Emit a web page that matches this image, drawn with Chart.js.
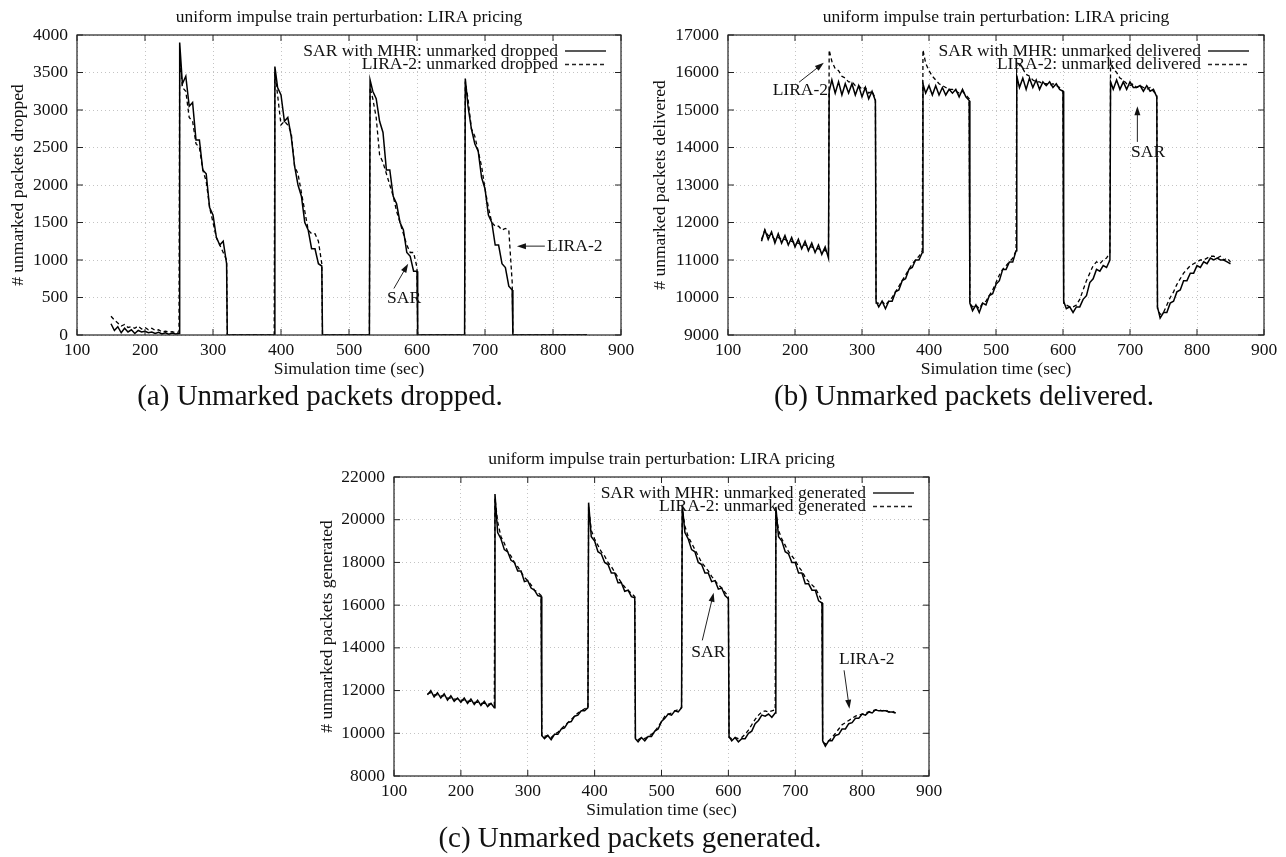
<!DOCTYPE html>
<html>
<head>
<meta charset="utf-8">
<script src="https://cdn.jsdelivr.net/npm/chart.js@4.4.1/dist/chart.umd.min.js"></script>
<style>
  body { margin: 0; background: #fff; width: 1286px; height: 857px; position: relative; overflow: hidden; font-family: "Liberation Serif", "Times New Roman", serif; }
  .box { position: absolute; }
  .caption { position: absolute; font-size: 29px; color: #111; transform: translate(-50%, -50%); white-space: nowrap; }
</style>
</head>
<body>
<div class="box" style="left:0;top:0;width:643px;height:400px"><canvas id="chartA"></canvas></div>
<div class="box" style="left:643px;top:0;width:643px;height:400px"><canvas id="chartB"></canvas></div>
<div class="box" style="left:300px;top:430px;width:686px;height:427px"><canvas id="chartC"></canvas></div>
<div class="caption" style="left:320px;top:395px">(a) Unmarked packets dropped.</div>
<div class="caption" style="left:964px;top:395px">(b) Unmarked packets delivered.</div>
<div class="caption" style="left:630px;top:837px">(c) Unmarked packets generated.</div>
<script>
// simulation time (sec); the extra x+1 points carry the steps of the impulse train
const times = [
  150, 155, 160, 165, 170, 175, 180, 185, 190, 195, 200, 205, 210, 215, 220, 225, 230, 235, 240, 245, 250,
  251, 255, 260, 265, 270, 275, 280, 285, 290, 295, 300, 305, 310, 315, 320,
  321, 325, 330, 335, 340, 345, 350, 355, 360, 365, 370, 375, 380, 385, 390,
  391, 395, 400, 405, 410, 415, 420, 425, 430, 435, 440, 445, 450, 455, 460,
  461, 465, 470, 475, 480, 485, 490, 495, 500, 505, 510, 515, 520, 525, 530,
  531, 535, 540, 545, 550, 555, 560, 565, 570, 575, 580, 585, 590, 595, 600,
  601, 605, 610, 615, 620, 625, 630, 635, 640, 645, 650, 655, 660, 665, 670,
  671, 675, 680, 685, 690, 695, 700, 705, 710, 715, 720, 725, 730, 735, 740,
  741, 745, 750, 755, 760, 765, 770, 775, 780, 785, 790, 795, 800, 805, 810, 815, 820, 825, 830, 835, 840, 845, 850
];

// (a) unmarked packets dropped
const droppedSar = [
  150, 60, 110, 30, 90, 40, 70, 20, 60, 40, 50, 30, 40, 20, 35, 15, 30, 10, 25, 15, 20,
  3900, 3350, 3450, 3050, 3100, 2600, 2600, 2200, 2150, 1700, 1600, 1300, 1200, 1250, 950,
  0, 0, 0, 0, 0, 0, 0, 0, 0, 0, 0, 0, 0, 0, 0,
  3580, 3300, 3200, 2850, 2900, 2650, 2250, 2000, 1850, 1500, 1400, 1150, 1150, 950, 920,
  0, 0, 0, 0, 0, 0, 0, 0, 0, 0, 0, 0, 0, 0, 0,
  3400, 3250, 3150, 2850, 2700, 2200, 2200, 1850, 1750, 1500, 1400, 1100, 1050, 850, 850,
  0, 0, 0, 0, 0, 0, 0, 0, 0, 0, 0, 0, 0, 0, 0,
  3420, 3050, 2750, 2550, 2450, 2100, 1950, 1600, 1500, 1200, 1200, 950, 900, 650, 600,
  0, 0, 0, 0, 0, 0, 0, 0, 0, 0, 0, 0, 0, 0, 0, 0, 0, 0, 0, 0, 0, 0, 0
];
const droppedLira = [
  250, 200, 160, 120, 140, 100, 110, 90, 120, 80, 100, 70, 90, 60, 70, 40, 50, 40, 45, 30, 40,
  3700, 3300, 3250, 2900, 2850, 2550, 2500, 2200, 2050, 1700, 1500, 1300, 1200, 1100, 1000,
  0, 0, 0, 0, 0, 0, 0, 0, 0, 0, 0, 0, 0, 0, 0,
  3500, 3200, 2800, 2850, 2800, 2700, 2250, 2150, 1900, 1650, 1400, 1350, 1350, 1250, 950,
  0, 0, 0, 0, 0, 0, 0, 0, 0, 0, 0, 0, 0, 0, 0,
  3300, 3150, 2900, 2400, 2300, 2150, 2000, 1850, 1650, 1500, 1350, 1200, 1100, 1100, 900,
  0, 0, 0, 0, 0, 0, 0, 0, 0, 0, 0, 0, 0, 0, 0,
  3380, 3150, 2750, 2650, 2450, 2250, 1950, 1700, 1500, 1450, 1450, 1400, 1420, 1400, 700,
  0, 0, 0, 0, 0, 0, 0, 0, 0, 0, 0, 0, 0, 0, 0, 0, 0, 0, 0, 0, 0, 0, 0
];

// (b) unmarked packets delivered
const deliveredSar = [
  11500, 11800, 11550, 11750, 11450, 11700, 11450, 11650, 11400, 11600, 11350, 11550, 11300, 11500, 11250, 11450, 11200, 11400, 11150, 11350, 11050,
  15500, 15800, 15450, 15750, 15400, 15700, 15450, 15700, 15400, 15650, 15350, 15600, 15300, 15500, 15250,
  9900, 9750, 9900, 9700, 9900, 9900, 10150, 10200, 10450, 10500, 10750, 10800, 11000, 11000, 11200,
  15700, 15450, 15650, 15400, 15650, 15400, 15600, 15400, 15550, 15450, 15550, 15350, 15550, 15350, 15250,
  9850, 9650, 9800, 9600, 9850, 9800, 10050, 10100, 10350, 10450, 10750, 10750, 10950, 10950, 11250,
  15900, 15600, 15850, 15550, 15850, 15600, 15800, 15550, 15750, 15650, 15750, 15600, 15700, 15550, 15500,
  9900, 9700, 9750, 9600, 9750, 9750, 9950, 10050, 10400, 10500, 10750, 10700, 10850, 10800, 11000,
  15750, 15550, 15800, 15550, 15750, 15550, 15750, 15600, 15600, 15650, 15500, 15650, 15500, 15550, 15350,
  9750, 9450, 9600, 9600, 9850, 9900, 10150, 10200, 10450, 10450, 10650, 10650, 10850, 10800, 10950, 10900, 11050, 11000, 11050, 11000, 11000, 10950, 10900
];
const deliveredLira = [
  11550, 11800, 11650, 11650, 11550, 11600, 11550, 11550, 11500, 11500, 11450, 11450, 11400, 11400, 11350, 11350, 11300, 11300, 11250, 11250, 11200,
  16600, 16300, 16100, 16050, 15900, 15850, 15750, 15750, 15650, 15650, 15550, 15600, 15450, 15500, 15300,
  9850, 9850, 9900, 9800, 9900, 10000, 10150, 10300, 10450, 10600, 10750, 10900, 11000, 11100, 11250,
  16600, 16250, 16050, 15900, 15800, 15700, 15650, 15600, 15550, 15550, 15500, 15450, 15500, 15400, 15300,
  9850, 9750, 9800, 9700, 9850, 9900, 10050, 10200, 10400, 10600, 10750, 10850, 10950, 11050, 11250,
  16300, 16200, 16100, 15950, 15900, 15800, 15750, 15750, 15700, 15700, 15650, 15700, 15650, 15600, 15500,
  9850, 9800, 9750, 9750, 9800, 9950, 10200, 10450, 10650, 10850, 10950, 10900, 11000, 11050, 11200,
  16300, 16100, 16000, 15850, 15800, 15700, 15650, 15700, 15600, 15650, 15600, 15550, 15600, 15500, 15400,
  9700, 9550, 9600, 9800, 10000, 10150, 10350, 10500, 10650, 10750, 10850, 10900, 10950, 11000, 11000, 11050, 11100, 11100, 11050, 11100, 11000, 11050, 10950
];

// (c) unmarked packets generated
const generatedSar = [
  11800, 12000, 11700, 11900, 11650, 11850, 11550, 11750, 11500, 11650, 11450, 11650, 11400, 11600, 11350, 11550, 11300, 11500, 11250, 11400, 11200,
  21200, 19400, 19100, 18600, 18500, 18100, 18000, 17600, 17600, 17100, 17150, 16800, 16700, 16450, 16400,
  9900, 9750, 9900, 9700, 9950, 9950, 10200, 10250, 10500, 10550, 10800, 10850, 11050, 11050, 11200,
  20800, 19200, 19000, 18500, 18400, 18000, 17900, 17500, 17500, 17050, 17050, 16650, 16700, 16400, 16350,
  9750, 9600, 9800, 9650, 9850, 9850, 10100, 10200, 10550, 10700, 10900, 10850, 11050, 11000, 11200,
  20700, 19400, 19100, 18600, 18500, 18000, 17900, 17500, 17500, 17100, 17150, 16750, 16800, 16450, 16300,
  9850, 9650, 9800, 9600, 9750, 9750, 10000, 10100, 10450, 10600, 10850, 10800, 10900, 10750, 10950,
  20600, 19200, 19000, 18500, 18400, 18000, 18000, 17500, 17500, 17000, 17000, 16700, 16700, 16200, 16100,
  9650, 9400, 9650, 9650, 9900, 9950, 10200, 10200, 10450, 10500, 10700, 10700, 10900, 10850, 11000, 10950, 11100, 11050, 11050, 11050, 11000, 11000, 10950
];
const generatedLira = [
  11850, 11900, 11800, 11800, 11750, 11750, 11650, 11650, 11600, 11600, 11550, 11550, 11500, 11500, 11450, 11450, 11400, 11400, 11350, 11400, 11300,
  21000, 19900, 19200, 18900, 18500, 18300, 18000, 17800, 17550, 17300, 17150, 16950, 16700, 16600, 16450,
  9850, 9850, 9900, 9800, 9950, 10050, 10200, 10350, 10500, 10650, 10800, 10950, 11050, 11150, 11200,
  20600, 19500, 19100, 18800, 18500, 18300, 18000, 17800, 17550, 17300, 17050, 16850, 16700, 16550, 16400,
  9750, 9700, 9800, 9750, 9850, 9950, 10100, 10300, 10550, 10800, 10900, 10950, 11050, 11100, 11200,
  20500, 19700, 19200, 18900, 18600, 18300, 18000, 17800, 17600, 17350, 17150, 16950, 16800, 16600, 16400,
  9800, 9750, 9800, 9750, 9800, 9950, 10150, 10400, 10650, 10850, 11000, 11050, 11000, 11050, 11100,
  20400, 19500, 19100, 18800, 18500, 18300, 18100, 17800, 17600, 17300, 17100, 16950, 16800, 16500, 16200,
  9600, 9500, 9650, 9800, 10000, 10200, 10400, 10500, 10600, 10700, 10800, 10850, 10900, 10950, 11000, 11050, 11100, 11100, 11050, 11100, 11000, 11050, 10950
];

const FONT = '"Liberation Serif", "Times New Roman", serif';
const FS = 17.5;

function arrow(ctx, x1, y1, x2, y2) {
  const ang = Math.atan2(y2 - y1, x2 - x1), L = 9, W = 3;
  ctx.beginPath();
  ctx.moveTo(x1, y1);
  ctx.lineTo(x2 - L * 0.7 * Math.cos(ang), y2 - L * 0.7 * Math.sin(ang));
  ctx.stroke();
  ctx.beginPath();
  ctx.moveTo(x2, y2);
  ctx.lineTo(x2 - L * Math.cos(ang) + W * Math.sin(ang), y2 - L * Math.sin(ang) - W * Math.cos(ang));
  ctx.lineTo(x2 - L * Math.cos(ang) - W * Math.sin(ang), y2 - L * Math.sin(ang) + W * Math.cos(ang));
  ctx.closePath();
  ctx.fill();
}

// gnuplot look: inward ticks, frame, title, legend inside the box, arrow notes
const gnuplotLook = {
  id: 'gnuplotLook',
  afterDatasetsDraw(chart, args, opts) {
    const { ctx, chartArea: a, scales: { x, y } } = chart;
    ctx.save();
    ctx.strokeStyle = '#222';
    ctx.lineWidth = 1;
    ctx.beginPath();
    x.ticks.forEach(t => {
      const px = x.getPixelForValue(t.value);
      ctx.moveTo(px, a.bottom); ctx.lineTo(px, a.bottom - 6);
      ctx.moveTo(px, a.top); ctx.lineTo(px, a.top + 6);
    });
    y.ticks.forEach(t => {
      const py = y.getPixelForValue(t.value);
      ctx.moveTo(a.left, py); ctx.lineTo(a.left + 6, py);
      ctx.moveTo(a.right, py); ctx.lineTo(a.right - 6, py);
    });
    ctx.stroke();
    ctx.lineWidth = 1.2;
    ctx.strokeRect(a.left, a.top, a.right - a.left, a.bottom - a.top);

    ctx.fillStyle = '#111';
    ctx.font = FS + 'px ' + FONT;
    ctx.textAlign = 'center';
    ctx.textBaseline = 'middle';
    ctx.fillText(opts.title, (a.left + a.right) / 2, a.top - 18);

    ctx.textAlign = 'right';
    ctx.lineWidth = 1.3;
    chart.data.datasets.forEach((ds, i) => {
      const yy = a.top + 16 + i * 13.5;
      ctx.fillText(ds.label, a.right - 63, yy);
      ctx.setLineDash(ds.borderDash || []);
      ctx.beginPath();
      ctx.moveTo(a.right - 56, yy);
      ctx.lineTo(a.right - 15, yy);
      ctx.stroke();
    });
    ctx.setLineDash([]);

    ctx.lineWidth = 1;
    ctx.textAlign = 'center';
    opts.notes.forEach(n => {
      ctx.fillText(n.text, x.getPixelForValue(n.at[0]), y.getPixelForValue(n.at[1]));
      arrow(ctx, x.getPixelForValue(n.from[0]), y.getPixelForValue(n.from[1]),
        x.getPixelForValue(n.to[0]), y.getPixelForValue(n.to[1]));
    });
    ctx.restore();
  }
};

function makeChart(id, cfg) {
  new Chart(document.getElementById(id), {
    type: 'line',
    data: {
      datasets: [
        {
          label: cfg.labels[0],
          data: times.map((t, i) => ({ x: t, y: cfg.sar[i] })),
          borderColor: '#000',
          borderWidth: 1.5,
          pointRadius: 0,
        },
        {
          label: cfg.labels[1],
          data: times.map((t, i) => ({ x: t, y: cfg.lira[i] })),
          borderColor: '#000',
          borderWidth: 1.3,
          borderDash: [4, 3],
          pointRadius: 0,
        },
      ],
    },
    options: {
      responsive: true,
      maintainAspectRatio: false,
      animation: false,
      layout: { padding: cfg.padding },
      plugins: {
        legend: { display: false },
        tooltip: { enabled: false },
        gnuplotLook: { title: 'uniform impulse train perturbation: LIRA pricing', notes: cfg.notes },
      },
      scales: {
        x: {
          type: 'linear',
          min: 100,
          max: 900,
          afterFit: (s) => { s.height = 45; },
          ticks: { stepSize: 100, padding: 5, color: '#111', font: { family: FONT, size: FS }, callback: (v) => String(v) },
          grid: { color: '#c4c4c4', drawTicks: false },
          border: { display: false, dash: [1, 3] },
          title: { display: true, text: 'Simulation time (sec)', color: '#111', font: { family: FONT, size: FS }, padding: { top: 0, bottom: 0 } },
        },
        y: {
          min: cfg.yMin,
          max: cfg.yMax,
          afterFit: (s) => { s.width = cfg.yWidth; },
          ticks: { stepSize: cfg.yStep, padding: 9, color: '#111', font: { family: FONT, size: FS }, callback: (v) => String(v) },
          grid: { color: '#c4c4c4', drawTicks: false },
          border: { display: false, dash: [1, 3] },
          title: { display: true, text: cfg.yTitle, color: '#111', font: { family: FONT, size: FS }, padding: { top: cfg.yTitlePad, bottom: 0 } },
        },
      },
    },
    plugins: [gnuplotLook],
  });
}

makeChart('chartA', {
  sar: droppedSar,
  lira: droppedLira,
  labels: ['SAR with MHR: unmarked dropped', 'LIRA-2: unmarked dropped'],
  yMin: 0, yMax: 4000, yStep: 500,
  yTitle: '# unmarked packets dropped',
  yWidth: 77, yTitlePad: 8,
  padding: { left: 0, right: 22, top: 35, bottom: 20 },
  notes: [
    { text: 'LIRA-2', at: [832, 1185], from: [788, 1185], to: [747, 1185] },
    { text: 'SAR', at: [581, 490], from: [566, 620], to: [587, 950] },
  ],
});

makeChart('chartB', {
  sar: deliveredSar,
  lira: deliveredLira,
  labels: ['SAR with MHR: unmarked delivered', 'LIRA-2: unmarked delivered'],
  yMin: 9000, yMax: 17000, yStep: 1000,
  yTitle: '# unmarked packets delivered',
  yWidth: 85, yTitlePad: 7,
  padding: { left: 0, right: 22, top: 35, bottom: 20 },
  notes: [
    { text: 'LIRA-2', at: [208, 15530], from: [206, 15740], to: [243, 16260] },
    { text: 'SAR', at: [727, 13880], from: [711, 14150], to: [711, 15100] },
  ],
});

makeChart('chartC', {
  sar: generatedSar,
  lira: generatedLira,
  labels: ['SAR with MHR: unmarked generated', 'LIRA-2: unmarked generated'],
  yMin: 8000, yMax: 22000, yStep: 2000,
  yTitle: '# unmarked packets generated',
  yWidth: 94, yTitlePad: 17,
  padding: { left: 0, right: 57, top: 47, bottom: 36 },
  notes: [
    { text: 'SAR', at: [570, 13775], from: [561, 14350], to: [578, 16580] },
    { text: 'LIRA-2', at: [807, 13460], from: [773, 12950], to: [781, 11150] },
  ],
});
</script>
</body>
</html>
